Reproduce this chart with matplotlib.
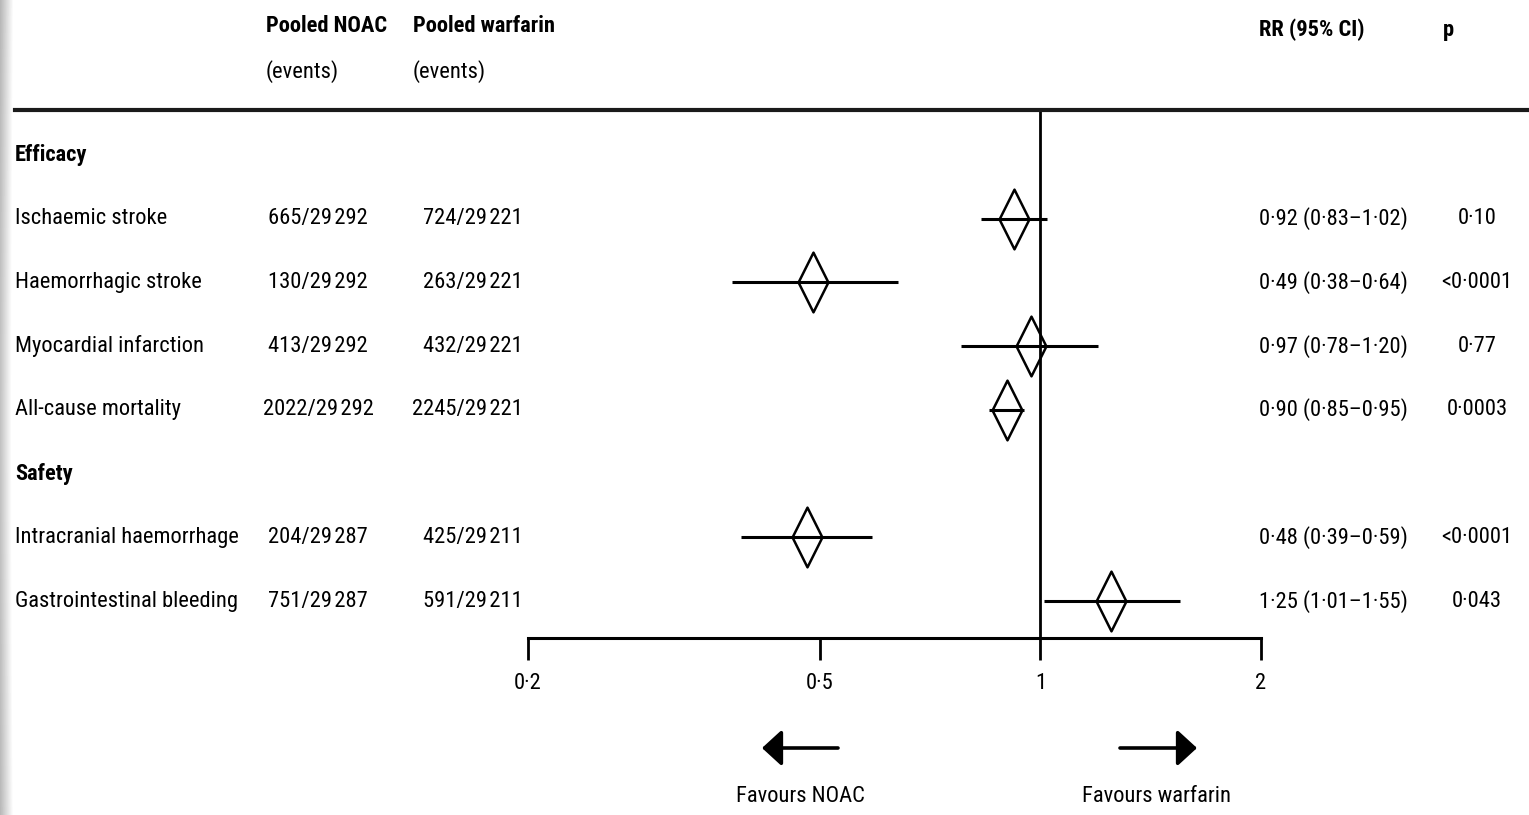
import numpy as np
import matplotlib
matplotlib.use("Agg")
import matplotlib.pyplot as plt
from matplotlib import font_manager
from matplotlib.transforms import blended_transform_factory
from matplotlib.lines import Line2D
from matplotlib.path import Path

# ---------------- data ----------------
groups = ["Efficacy", "Safety"]
outcomes = ["Ischaemic stroke", "Haemorrhagic stroke", "Myocardial infarction",
            "All-cause mortality", "Intracranial haemorrhage", "Gastrointestinal bleeding"]
noac_events = [665, 130, 413, 2022, 204, 751]
noac_totals = [29292, 29292, 29292, 29292, 29287, 29287]
warf_events = [724, 263, 432, 2245, 425, 591]
warf_totals = [29221, 29221, 29221, 29221, 29211, 29211]
rr = [0.92, 0.49, 0.97, 0.90, 0.48, 1.25]
rr_lo = [0.83, 0.38, 0.78, 0.85, 0.39, 1.01]
rr_hi = [1.02, 0.64, 1.20, 0.95, 0.59, 1.55]
p_values = ["0·10", "<0·0001", "0·77", "0·0003", "<0·0001", "0·043"]
x_ticks = [0.2, 0.5, 1, 2]
x_tick_labels = ["0·2", "0·5", "1", "2"]
headers = ["Pooled NOAC", "Pooled warfarin", "(events)", "RR (95% CI)", "p"]
favour_labels = ["Favours NOAC", "Favours warfarin"]

# ---------------- fonts ----------------
avail = {f.name for f in font_manager.fontManager.ttflist}
family = "DejaVu Sans"
for cand in ["Liberation Sans Narrow", "Roboto Condensed", "DejaVu Sans Condensed", "Liberation Sans"]:
    if cand in avail:
        family = cand
        break
plt.rcParams["font.family"] = [family, "DejaVu Sans"]
FS = 16.2

W, H = 1529, 815
fig = plt.figure(figsize=(W / 100, H / 100), dpi=100)
fig.patch.set_facecolor("white")


def fx(px):
    return px / W


def fy(py):
    return 1 - py / H


# left edge shadow
grad_ax = fig.add_axes([0, 0, fx(14), 1])
g = np.linspace(0.72, 1.0, 14)[None, :]
img = np.clip(g + (np.sin(np.linspace(0, 3, 100))[:, None] * 0.04), 0, 1)
grad_ax.imshow(img, cmap="gray", vmin=0, vmax=1, aspect="auto", extent=[0, 1, 0, 1])
grad_ax.axis("off")

# ---------------- forest axes ----------------
ax = fig.add_axes([fx(528), fy(638), fx(1261) - fx(528), fy(110) - fy(638)])
ax.set_xscale("log")
ax.set_xlim(0.2, 2)
row_y = [1, 2, 3, 4, 6, 7]
group_y = [0, 5]
ax.set_ylim(7.58, -0.706)
ax.patch.set_alpha(0)

for s in ["top", "right", "left"]:
    ax.spines[s].set_visible(False)
ax.spines["bottom"].set_linewidth(2.2)
ax.set_yticks([])
ax.set_xticks(x_ticks)
ax.set_xticklabels(x_tick_labels, fontsize=FS)
ax.xaxis.set_minor_locator(matplotlib.ticker.NullLocator())
ax.tick_params(axis="x", direction="out", length=16, width=2, pad=9)

ax.axvline(1, color="black", lw=2, zorder=1)

diamond = Path([(0, 1), (0.5, 0), (0, -1), (-0.5, 0), (0, 1)],
               [Path.MOVETO, Path.LINETO, Path.LINETO, Path.LINETO, Path.CLOSEPOLY])
for i in range(len(rr)):
    y = row_y[i]
    ax.plot([rr_lo[i], rr_hi[i]], [y, y], color="black", lw=2.2, solid_capstyle="butt", zorder=2)
    ax.plot([rr[i]], [y], marker=diamond, markersize=43, markerfacecolor="none",
            markeredgecolor="black", markeredgewidth=1.8, zorder=3, linestyle="none")

# ---------------- text columns ----------------
tr = blended_transform_factory(fig.transFigure, ax.transData)
for gname, gy in zip(groups, group_y):
    ax.text(fx(15), gy, gname, transform=tr, fontsize=FS, fontweight="bold",
            ha="left", va="center", clip_on=False)


def fmt(v):
    return f"{v:.2f}".replace(".", "·")


def thin(n):
    s = str(n)
    return s[:-3] + "\u200a" + s[-3:]


for i in range(len(outcomes)):
    y = row_y[i]
    ax.text(fx(15), y, outcomes[i], transform=tr, fontsize=FS, ha="left", va="center", clip_on=False)
    ax.text(fx(318), y, f"{noac_events[i]}/{thin(noac_totals[i])}", transform=tr, fontsize=FS,
            ha="center", va="center", clip_on=False)
    ax.text(fx(523), y, f"{warf_events[i]}/{thin(warf_totals[i])}", transform=tr, fontsize=FS,
            ha="right", va="center", clip_on=False)
    ax.text(fx(1259), y, f"{fmt(rr[i])} ({fmt(rr_lo[i])}–{fmt(rr_hi[i])})", transform=tr,
            fontsize=FS, ha="left", va="center", clip_on=False)
    ax.text(fx(1477), y, p_values[i], transform=tr, fontsize=FS, ha="center", va="center", clip_on=False)

# headers
fig.text(fx(266), fy(26), headers[0], fontsize=FS, fontweight="bold", ha="left", va="center")
fig.text(fx(266), fy(72), headers[2], fontsize=FS, ha="left", va="center")
fig.text(fx(413), fy(26), headers[1], fontsize=FS, fontweight="bold", ha="left", va="center")
fig.text(fx(413), fy(72), headers[2], fontsize=FS, ha="left", va="center")
fig.text(fx(1259), fy(30), headers[3], fontsize=FS, fontweight="bold", ha="left", va="center")
fig.text(fx(1443), fy(30), headers[4], fontsize=FS, fontweight="bold", ha="left", va="center")

# header rule
fig.add_artist(Line2D([fx(15), 1.0], [fy(110), fy(110)], color="#1a1a1a", lw=3))

# favour arrows
arrow_kw = dict(arrowstyle="-|>,head_length=0.6,head_width=0.55", lw=2.6, color="black",
                mutation_scale=20, shrinkA=0, shrinkB=0)
fig.add_artist(matplotlib.patches.FancyArrowPatch((fx(838), fy(748)), (fx(762), fy(748)),
                                                  transform=fig.transFigure, **arrow_kw))
fig.add_artist(matplotlib.patches.FancyArrowPatch((fx(1120), fy(748)), (fx(1197), fy(748)),
                                                  transform=fig.transFigure, **arrow_kw))
fig.text(fx(800), fy(786), favour_labels[0], fontsize=FS, ha="center", va="top")
fig.text(fx(1157), fy(786), favour_labels[1], fontsize=FS, ha="center", va="top")

fig.savefig("out.png", dpi=100, facecolor="white")
